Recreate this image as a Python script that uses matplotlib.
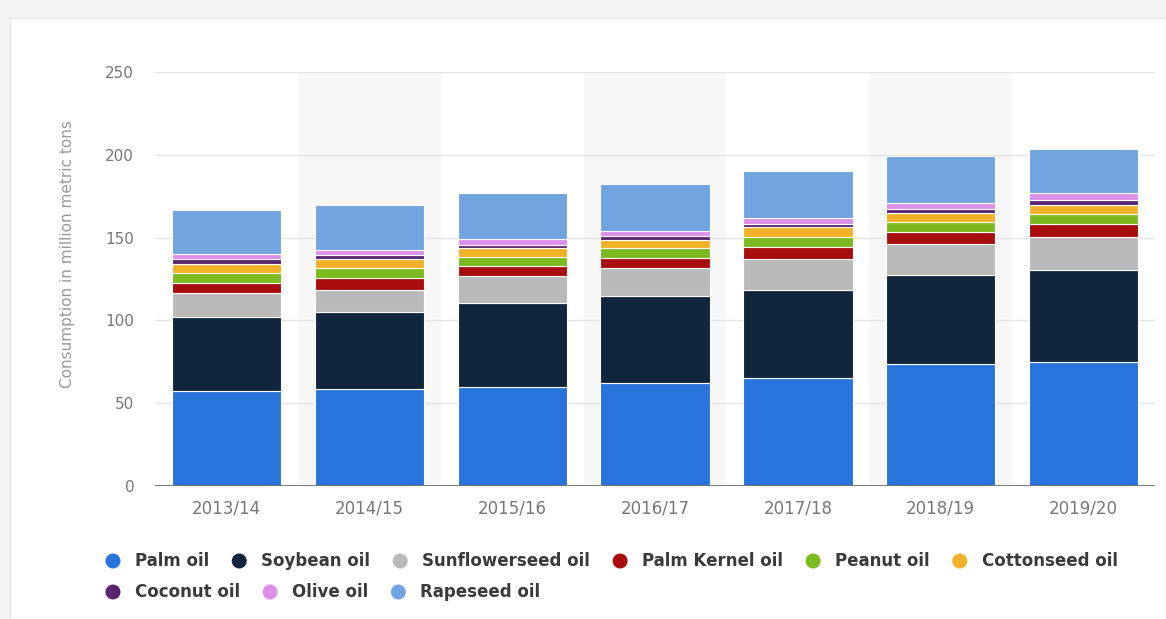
import matplotlib
matplotlib.use("Agg")
import matplotlib.pyplot as plt
from matplotlib.patches import Rectangle, Ellipse
import numpy as np

# Marketing years
years = ["2013/14", "2014/15", "2015/16", "2016/17", "2017/18", "2018/19", "2019/20"]

# Consumption by oil type, million metric tons
palm_oil = [57.4, 58.6, 60.0, 62.0, 65.0, 73.5, 75.1]
soybean_oil = [44.6, 46.3, 50.7, 52.7, 53.4, 53.9, 55.3]
sunflowerseed_oil = [14.4, 13.5, 16.1, 16.7, 18.5, 18.7, 20.1]
palm_kernel_oil = [6.4, 7.4, 6.1, 6.5, 7.6, 7.5, 7.5]
peanut_oil = [5.6, 5.6, 5.6, 5.6, 5.7, 6.0, 6.1]
cottonseed_oil = [5.8, 5.5, 5.0, 5.1, 6.0, 5.5, 5.6]
coconut_oil = [3.0, 2.4, 2.3, 2.3, 2.3, 2.4, 3.2]
olive_oil = [3.0, 3.4, 3.2, 3.3, 3.1, 3.4, 3.8]
rapeseed_oil = [26.5, 27.0, 27.7, 28.2, 28.8, 28.4, 27.0]

series_names = ["Palm oil", "Soybean oil", "Sunflowerseed oil", "Palm Kernel oil",
                "Peanut oil", "Cottonseed oil", "Coconut oil", "Olive oil", "Rapeseed oil"]
series_values = [palm_oil, soybean_oil, sunflowerseed_oil, palm_kernel_oil,
                 peanut_oil, cottonseed_oil, coconut_oil, olive_oil, rapeseed_oil]
series_colors = ["#2874dc", "#11263d", "#bababa", "#a80d0d", "#7cba1f",
                 "#f2b12a", "#5b2470", "#dc90ea", "#72a4e0"]

y_ticks = [0, 50, 100, 150, 200, 250]

W, H = 1166, 619
fig = plt.figure(figsize=(W / 100, H / 100), dpi=100)
fig.patch.set_facecolor("#f3f3f3")

# white card behind the chart
card = Rectangle((10 / W, 0), 1 - 10 / W, 1 - 18 / H, transform=fig.transFigure,
                 facecolor="white", edgecolor="#e8e8e8", linewidth=1, zorder=-5)
fig.add_artist(card)

ax = fig.add_axes([155 / W, 1 - 486 / H, 1000 / W, (486 - 72) / H])
ax.set_zorder(2)
ax.set_facecolor("none")

x = np.arange(len(years))
ax.set_xlim(-0.5, len(years) - 0.5)
ax.set_ylim(0, 250)

# alternating column shading
for i in x:
    if i % 2 == 1:
        ax.axvspan(i - 0.5, i + 0.5, color="#f7f7f7", zorder=0, lw=0)

for t in y_ticks[1:]:
    ax.axhline(t, color="#e4e4e4", lw=1, zorder=0.5)

bottom = np.zeros(len(years))
for name, vals, col in zip(series_names, series_values, series_colors):
    vals = np.array(vals)
    ax.bar(x, vals, bottom=bottom, width=0.765, color=col, edgecolor="white",
           linewidth=0.8, zorder=2)
    bottom += vals

ax.axhline(0, color="#6f6f6f", lw=1.3, zorder=3)

for s in ax.spines.values():
    s.set_visible(False)
ax.set_xticks(x)
ax.set_xticklabels(years)
ax.set_yticks(y_ticks)
ax.tick_params(axis="both", length=0, colors="#777777")
ax.tick_params(axis="x", labelsize=12, pad=10)
ax.tick_params(axis="y", labelsize=11, pad=15)
ax.set_ylabel("Consumption in million metric tons", fontsize=11, color="#999999")
ax.yaxis.set_label_coords(-0.08, 0.56)

# legend laid out as a flowing row of dot + label items
fig.canvas.draw()
renderer = fig.canvas.get_renderer()
rows = [series_names[:6], series_names[6:]]
row_y = [561, 592]
start_x = 113
idx = 0
for r, names in enumerate(rows):
    cx = start_x
    for name in names:
        col = series_colors[idx]
        idx += 1
        fig.add_artist(Ellipse((cx / W, 1 - row_y[r] / H), 15 / W, 15 / H,
                               transform=fig.transFigure, facecolor=col, edgecolor="none"))
        t = fig.text((cx + 22) / W, 1 - row_y[r] / H, name, fontsize=12, color="#3a3a3a",
                     family="DejaVu Sans", weight="bold", va="center", ha="left")
        bb = t.get_window_extent(renderer)
        cx = bb.x1 + 30

fig.savefig("out.png", dpi=100, facecolor=fig.get_facecolor())
